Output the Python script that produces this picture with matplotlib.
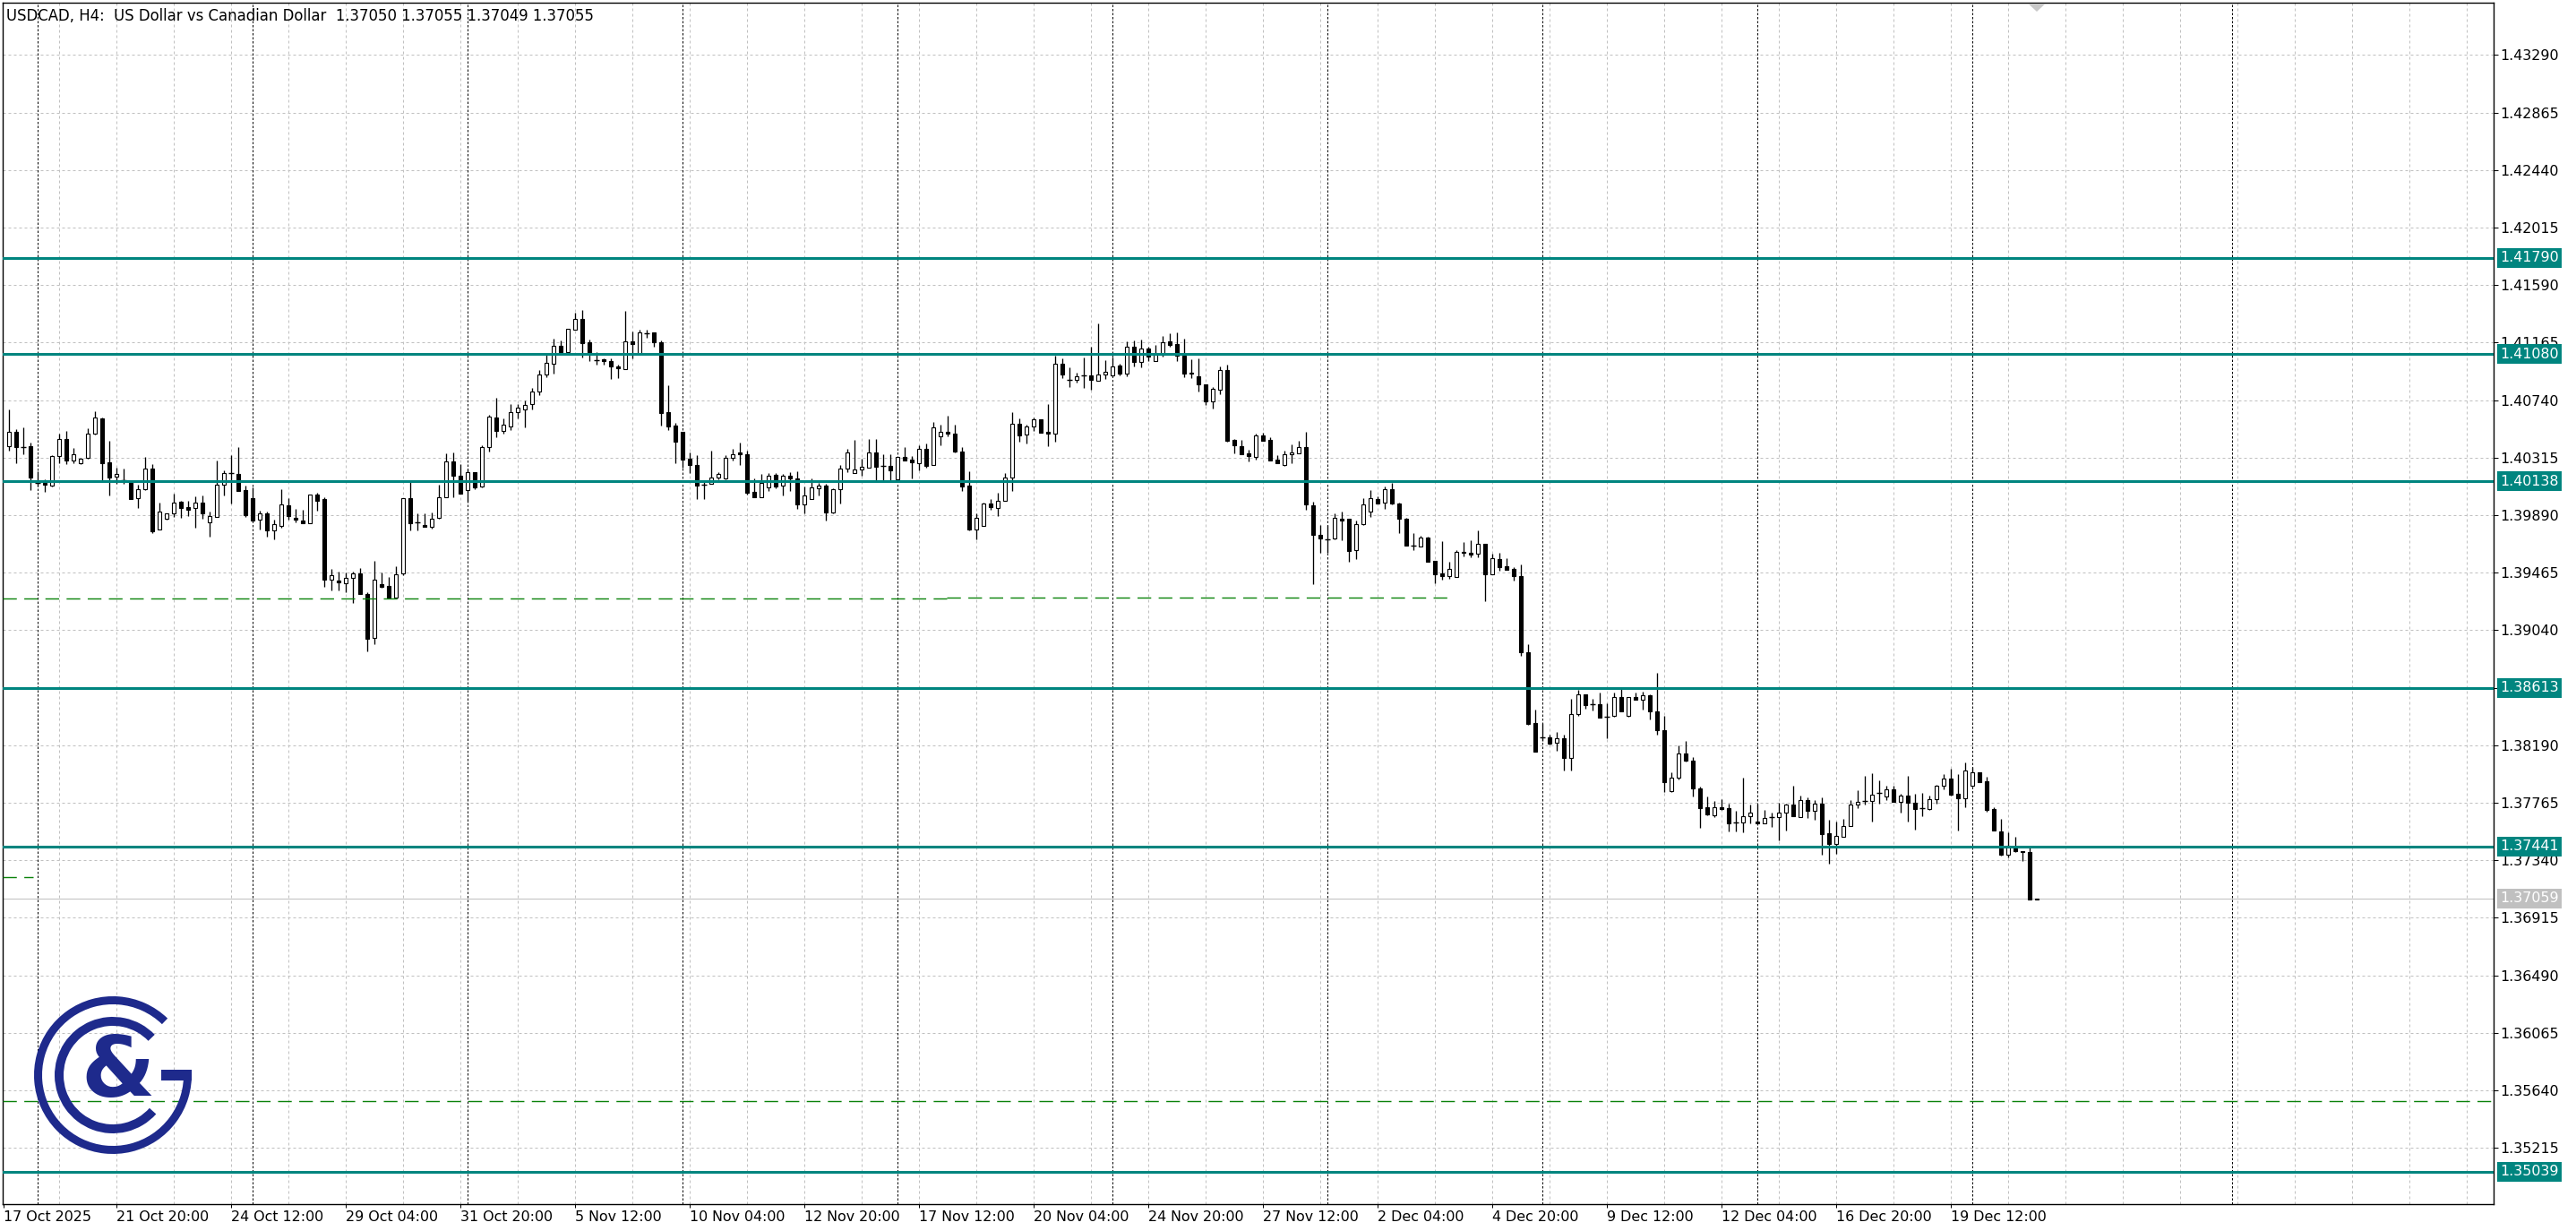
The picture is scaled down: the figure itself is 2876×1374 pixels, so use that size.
#!/usr/bin/env python3
"""USDCAD H4 candlestick chart in MetaTrader style with horizontal levels."""
import numpy as np
import matplotlib
matplotlib.use("Agg")
import matplotlib.pyplot as plt
import matplotlib.transforms as mtransforms
from matplotlib.patches import Wedge, Rectangle, Polygon

# ---- data (prices, one H4 bar per entry) ----
opens = [
    1.40397, 1.40503, 1.40390, 1.40397, 1.40125, 1.40128, 1.40110, 1.40324, 1.40452, 1.40293,
    1.40271, 1.40311, 1.40490, 1.40607, 1.40280, 1.40172, 1.40150, 1.40132, 1.40015, 1.40081,
    1.40231, 1.39786, 1.39861, 1.39900, 1.39986, 1.39949, 1.39940, 1.39980, 1.39834, 1.39878,
    1.40112, 1.40203, 1.40194, 1.40075, 1.40013, 1.39854, 1.39903, 1.39775, 1.39812, 1.39960,
    1.39867, 1.39852, 1.39830, 1.40039, 1.40006, 1.39415, 1.39404, 1.39384, 1.39424, 1.39459,
    1.39305, 1.38980, 1.39377, 1.39366, 1.39282, 1.39459, 1.40015, 1.39834, 1.39814, 1.39805,
    1.39867, 1.40019, 1.40286, 1.40184, 1.40076, 1.40204, 1.40103, 1.40390, 1.40610, 1.40515,
    1.40544, 1.40654, 1.40672, 1.40712, 1.40800, 1.40926, 1.41008, 1.41138, 1.41096, 1.41257,
    1.41339, 1.41167, 1.41036, 1.41041, 1.41025, 1.40986, 1.40970, 1.41171, 1.41078, 1.41235,
    1.41239, 1.41167, 1.40654, 1.40551, 1.40502, 1.40304, 1.40257, 1.40116, 1.40118, 1.40165,
    1.40158, 1.40312, 1.40350, 1.40337, 1.40059, 1.40019, 1.40098, 1.40187, 1.40105, 1.40180,
    1.40158, 1.39966, 1.40006, 1.40085, 1.40109, 1.39911, 1.40081, 1.40231, 1.40202, 1.40224,
    1.40242, 1.40352, 1.40253, 1.40255, 1.40156, 1.40317, 1.40299, 1.40275, 1.40377, 1.40262,
    1.40469, 1.40502, 1.40491, 1.40361, 1.40107, 1.39785, 1.39812, 1.39973, 1.39944, 1.39993,
    1.40165, 1.40562, 1.40485, 1.40547, 1.40595, 1.40502, 1.40493, 1.41010, 1.40889, 1.40886,
    1.40924, 1.40924, 1.40884, 1.40926, 1.40920, 1.40992, 1.40937, 1.41136, 1.41021, 1.41118,
    1.41025, 1.41074, 1.41173, 1.41151, 1.41065, 1.40944, 1.40915, 1.40856, 1.40732, 1.40816,
    1.40959, 1.40443, 1.40396, 1.40346, 1.40319, 1.40478, 1.40445, 1.40299, 1.40262, 1.40337,
    1.40348, 1.40390, 1.39962, 1.39741, 1.39712, 1.39717, 1.39860, 1.39860, 1.39629, 1.39824,
    1.39913, 1.40006, 1.39982, 1.40081, 1.39975, 1.39863, 1.39662, 1.39657, 1.39724, 1.39551,
    1.39459, 1.39441, 1.39430, 1.39618, 1.39609, 1.39602, 1.39679, 1.39454, 1.39565, 1.39512,
    1.39492, 1.39441, 1.38874, 1.38351, 1.38245, 1.38245, 1.38205, 1.38240, 1.38097, 1.38417,
    1.38565, 1.38494, 1.38496, 1.38399, 1.38404, 1.38549, 1.38404, 1.38543, 1.38527, 1.38560,
    1.38443, 1.38304, 1.37848, 1.37947, 1.38128, 1.38073, 1.37870, 1.37731, 1.37671, 1.37733,
    1.37722, 1.37616, 1.37616, 1.37665, 1.37623, 1.37612, 1.37656, 1.37656, 1.37689, 1.37749,
    1.37656, 1.37782, 1.37702, 1.37755, 1.37537, 1.37462, 1.37512, 1.37594, 1.37749, 1.37775,
    1.37775, 1.37837, 1.37808, 1.37861, 1.37773, 1.37819, 1.37766, 1.37722, 1.37716, 1.37790,
    1.37888, 1.37941, 1.37828, 1.37795, 1.37892, 1.37987, 1.37921, 1.37716, 1.37550, 1.37380,
    1.37428, 1.37409, 1.37400, 1.37050,
]
highs = [
    1.40668, 1.40525, 1.40536, 1.40423, 1.40216, 1.40154, 1.40331, 1.40492, 1.40512, 1.40386,
    1.40315, 1.40529, 1.40655, 1.40611, 1.40437, 1.40242, 1.40231, 1.40139, 1.40117, 1.40320,
    1.40269, 1.39982, 1.39905, 1.40048, 1.39995, 1.39995, 1.40028, 1.40035, 1.39916, 1.40293,
    1.40218, 1.40331, 1.40393, 1.40106, 1.40095, 1.39922, 1.39918, 1.39856, 1.40084, 1.40015,
    1.39938, 1.39927, 1.40039, 1.40055, 1.40020, 1.39492, 1.39472, 1.39468, 1.39470, 1.39497,
    1.39318, 1.39552, 1.39463, 1.39435, 1.39514, 1.40015, 1.40132, 1.39900, 1.39905, 1.39907,
    1.40115, 1.40348, 1.40352, 1.40264, 1.40231, 1.40209, 1.40407, 1.40628, 1.40756, 1.40606,
    1.40710, 1.40710, 1.40738, 1.40831, 1.40963, 1.41078, 1.41193, 1.41178, 1.41268, 1.41385,
    1.41407, 1.41184, 1.41096, 1.41047, 1.41047, 1.41003, 1.41400, 1.41246, 1.41257, 1.41257,
    1.41239, 1.41180, 1.40849, 1.40573, 1.40502, 1.40352, 1.40330, 1.40147, 1.40368, 1.40209,
    1.40330, 1.40381, 1.40424, 1.40368, 1.40158, 1.40191, 1.40202, 1.40200, 1.40191, 1.40209,
    1.40213, 1.40103, 1.40160, 1.40125, 1.40120, 1.40087, 1.40257, 1.40379, 1.40445, 1.40308,
    1.40452, 1.40452, 1.40337, 1.40337, 1.40317, 1.40392, 1.40324, 1.40408, 1.40421, 1.40575,
    1.40558, 1.40624, 1.40558, 1.40392, 1.40213, 1.39900, 1.39982, 1.40010, 1.40054, 1.40198,
    1.40650, 1.40602, 1.40558, 1.40611, 1.40600, 1.40710, 1.41070, 1.41048, 1.40981, 1.40942,
    1.41054, 1.41131, 1.41306, 1.41032, 1.41054, 1.41008, 1.41173, 1.41180, 1.41184, 1.41136,
    1.41147, 1.41213, 1.41235, 1.41242, 1.41191, 1.41041, 1.41048, 1.40858, 1.40833, 1.40990,
    1.41003, 1.40454, 1.40445, 1.40370, 1.40489, 1.40496, 1.40463, 1.40332, 1.40364, 1.40414,
    1.40441, 1.40507, 1.39988, 1.39816, 1.39816, 1.39900, 1.39915, 1.39865, 1.39853, 1.40015,
    1.40072, 1.40030, 1.40103, 1.40125, 1.39984, 1.39867, 1.39757, 1.39735, 1.39730, 1.39551,
    1.39695, 1.39547, 1.39631, 1.39690, 1.39706, 1.39774, 1.39679, 1.39607, 1.39613, 1.39573,
    1.39507, 1.39525, 1.38936, 1.38455, 1.38355, 1.38271, 1.38289, 1.38271, 1.38532, 1.38598,
    1.38565, 1.38532, 1.38576, 1.38499, 1.38576, 1.38605, 1.38549, 1.38576, 1.38587, 1.38565,
    1.38726, 1.38410, 1.37991, 1.38190, 1.38223, 1.38101, 1.37883, 1.37810, 1.37775, 1.37793,
    1.37757, 1.37702, 1.37947, 1.37749, 1.37755, 1.37709, 1.37689, 1.37766, 1.37760, 1.37888,
    1.37815, 1.37804, 1.37786, 1.37804, 1.37638, 1.37627, 1.37643, 1.37782, 1.37854, 1.37963,
    1.37980, 1.37929, 1.37892, 1.37892, 1.37830, 1.37963, 1.37830, 1.37835, 1.37819, 1.37896,
    1.37976, 1.38013, 1.37974, 1.38064, 1.38031, 1.37991, 1.37958, 1.37733, 1.37643, 1.37545,
    1.37512, 1.37409, 1.37435, 1.37055,
]
lows = [
    1.40364, 1.40276, 1.40342, 1.40077, 1.40099, 1.40059, 1.40103, 1.40271, 1.40265, 1.40271,
    1.40267, 1.40306, 1.40485, 1.40148, 1.40033, 1.40121, 1.40121, 1.40006, 1.39940, 1.40077,
    1.39757, 1.39786, 1.39856, 1.39874, 1.39872, 1.39883, 1.39799, 1.39861, 1.39728, 1.39878,
    1.40037, 1.39978, 1.40066, 1.39878, 1.39845, 1.39786, 1.39728, 1.39708, 1.39799, 1.39858,
    1.39834, 1.39830, 1.39828, 1.39922, 1.39357, 1.39335, 1.39335, 1.39322, 1.39243, 1.39305,
    1.38885, 1.38934, 1.39355, 1.39276, 1.39278, 1.39448, 1.39779, 1.39779, 1.39805, 1.39790,
    1.39865, 1.40019, 1.40019, 1.40050, 1.39992, 1.40081, 1.40092, 1.40357, 1.40467, 1.40489,
    1.40518, 1.40606, 1.40540, 1.40672, 1.40778, 1.40910, 1.40937, 1.41092, 1.41092, 1.41257,
    1.41056, 1.41030, 1.40999, 1.40999, 1.40897, 1.40904, 1.40966, 1.41047, 1.41078, 1.41197,
    1.41136, 1.40551, 1.40518, 1.40275, 1.40242, 1.40202, 1.40010, 1.40010, 1.40118, 1.40154,
    1.40154, 1.40293, 1.40262, 1.40045, 1.40019, 1.40019, 1.40070, 1.40087, 1.40032, 1.40070,
    1.39933, 1.39900, 1.40006, 1.40037, 1.39851, 1.39904, 1.39977, 1.40209, 1.40202, 1.40180,
    1.40242, 1.40147, 1.40147, 1.40147, 1.40156, 1.40291, 1.40160, 1.40220, 1.40240, 1.40262,
    1.40408, 1.40474, 1.40355, 1.40070, 1.39779, 1.39712, 1.39807, 1.39931, 1.39884, 1.39993,
    1.40070, 1.40434, 1.40421, 1.40513, 1.40498, 1.40401, 1.40434, 1.40904, 1.40838, 1.40867,
    1.40827, 1.40814, 1.40880, 1.40893, 1.40915, 1.40920, 1.40915, 1.40986, 1.40984, 1.41030,
    1.41025, 1.41059, 1.41136, 1.41030, 1.40911, 1.40904, 1.40805, 1.40705, 1.40679, 1.40783,
    1.40430, 1.40348, 1.40339, 1.40288, 1.40302, 1.40438, 1.40291, 1.40275, 1.40253, 1.40271,
    1.40346, 1.39927, 1.39381, 1.39613, 1.39613, 1.39712, 1.39706, 1.39547, 1.39562, 1.39816,
    1.39874, 1.39973, 1.39933, 1.39971, 1.39759, 1.39662, 1.39629, 1.39655, 1.39547, 1.39388,
    1.39415, 1.39421, 1.39430, 1.39584, 1.39580, 1.39580, 1.39256, 1.39450, 1.39476, 1.39485,
    1.39403, 1.38852, 1.38340, 1.38141, 1.38223, 1.38196, 1.38146, 1.38002, 1.38006, 1.38404,
    1.38461, 1.38448, 1.38395, 1.38238, 1.38399, 1.38439, 1.38401, 1.38527, 1.38455, 1.38382,
    1.38267, 1.37841, 1.37841, 1.37936, 1.38068, 1.37814, 1.37576, 1.37671, 1.37660, 1.37713,
    1.37554, 1.37550, 1.37543, 1.37610, 1.37610, 1.37610, 1.37583, 1.37484, 1.37559, 1.37667,
    1.37656, 1.37654, 1.37638, 1.37378, 1.37312, 1.37384, 1.37510, 1.37594, 1.37722, 1.37749,
    1.37627, 1.37760, 1.37786, 1.37771, 1.37689, 1.37627, 1.37568, 1.37667, 1.37711, 1.37760,
    1.37865, 1.37815, 1.37557, 1.37733, 1.37881, 1.37918, 1.37700, 1.37557, 1.37371, 1.37362,
    1.37398, 1.37336, 1.37053, 1.37049,
]
closes = [
    1.40503, 1.40390, 1.40390, 1.40165, 1.40125, 1.40112, 1.40326, 1.40452, 1.40291, 1.40337,
    1.40309, 1.40490, 1.40609, 1.40276, 1.40165, 1.40192, 1.40150, 1.40011, 1.40081, 1.40231,
    1.39772, 1.39918, 1.39900, 1.39980, 1.39945, 1.39931, 1.39980, 1.39900, 1.39883, 1.40112,
    1.40201, 1.40203, 1.40070, 1.39889, 1.39850, 1.39900, 1.39779, 1.39821, 1.39967, 1.39885,
    1.39854, 1.39830, 1.40039, 1.39998, 1.39415, 1.39443, 1.39391, 1.39424, 1.39461, 1.39309,
    1.38973, 1.39410, 1.39360, 1.39282, 1.39452, 1.40015, 1.39828, 1.39834, 1.39805, 1.39865,
    1.40022, 1.40286, 1.40182, 1.40050, 1.40204, 1.40098, 1.40390, 1.40617, 1.40515, 1.40555,
    1.40654, 1.40683, 1.40707, 1.40800, 1.40926, 1.41012, 1.41138, 1.41096, 1.41264, 1.41339,
    1.41162, 1.41087, 1.41036, 1.41027, 1.40990, 1.40972, 1.41171, 1.41151, 1.41239, 1.41235,
    1.41167, 1.40646, 1.40546, 1.40434, 1.40301, 1.40257, 1.40109, 1.40116, 1.40165, 1.40193,
    1.40312, 1.40341, 1.40337, 1.40054, 1.40019, 1.40131, 1.40178, 1.40103, 1.40178, 1.40158,
    1.39966, 1.40037, 1.40092, 1.40109, 1.39911, 1.40081, 1.40231, 1.40350, 1.40224, 1.40246,
    1.40352, 1.40249, 1.40253, 1.40222, 1.40317, 1.40295, 1.40282, 1.40377, 1.40255, 1.40538,
    1.40502, 1.40491, 1.40359, 1.40103, 1.39783, 1.39867, 1.39975, 1.39948, 1.39993, 1.40165,
    1.40562, 1.40480, 1.40544, 1.40595, 1.40500, 1.40493, 1.41010, 1.40931, 1.40889, 1.40913,
    1.40924, 1.40886, 1.40931, 1.40950, 1.40990, 1.40937, 1.41136, 1.41019, 1.41118, 1.41063,
    1.41074, 1.41169, 1.41147, 1.41065, 1.40937, 1.40937, 1.40853, 1.40732, 1.40820, 1.40959,
    1.40441, 1.40408, 1.40341, 1.40328, 1.40478, 1.40441, 1.40293, 1.40275, 1.40337, 1.40350,
    1.40390, 1.39966, 1.39741, 1.39719, 1.39712, 1.39867, 1.39847, 1.39626, 1.39824, 1.39966,
    1.40015, 1.39977, 1.40081, 1.39973, 1.39860, 1.39664, 1.39662, 1.39724, 1.39547, 1.39454,
    1.39441, 1.39492, 1.39618, 1.39609, 1.39596, 1.39675, 1.39454, 1.39569, 1.39507, 1.39487,
    1.39437, 1.38874, 1.38344, 1.38141, 1.38245, 1.38201, 1.38238, 1.38097, 1.38417, 1.38565,
    1.38488, 1.38494, 1.38395, 1.38399, 1.38549, 1.38443, 1.38545, 1.38527, 1.38558, 1.38443,
    1.38304, 1.37914, 1.37947, 1.38128, 1.38073, 1.37870, 1.37726, 1.37676, 1.37733, 1.37720,
    1.37610, 1.37616, 1.37667, 1.37689, 1.37610, 1.37649, 1.37656, 1.37689, 1.37749, 1.37667,
    1.37782, 1.37702, 1.37755, 1.37534, 1.37459, 1.37517, 1.37594, 1.37749, 1.37773, 1.37775,
    1.37826, 1.37837, 1.37861, 1.37773, 1.37819, 1.37766, 1.37720, 1.37722, 1.37790, 1.37888,
    1.37941, 1.37821, 1.37795, 1.38000, 1.37987, 1.37918, 1.37709, 1.37557, 1.37380, 1.37446,
    1.37406, 1.37398, 1.37053, 1.37055,
]

levels = [1.41790, 1.41080, 1.40138, 1.38613, 1.37441, 1.35039]   # teal horizontal lines
bid = 1.37059
price_ticks = [1.35215 + 0.00425 * k for k in range(20)]
# dashed green lines: (first bar, last bar, price)
green_segments = [(-0.9, 130.9, 1.39271), (130.9, 201.25, 1.39278),
                  (-0.9, 3.4, 1.37215), (-0.9, 347, 1.35557)]
week_separators = [4, 34, 64, 94, 124, 154, 184, 214, 244, 274, 310.25]
date_ticks = [-0.75] + [15 + 16 * k for k in range(17)]
date_labels = ["17 Oct 2025", "21 Oct 20:00", "24 Oct 12:00", "29 Oct 04:00", "31 Oct 20:00",
               "5 Nov 12:00", "10 Nov 04:00", "12 Nov 20:00", "17 Nov 12:00", "20 Nov 04:00",
               "24 Nov 20:00", "27 Nov 12:00", "2 Dec 04:00", "4 Dec 20:00", "9 Dec 12:00",
               "12 Dec 04:00", "16 Dec 20:00", "19 Dec 12:00"]
title = "USDCAD, H4:  US Dollar vs Canadian Dollar  1.37050 1.37055 1.37049 1.37055"

TEAL = "#00857f"
GREY = "#c0c0c0"
NAVY = "#1e2a8c"
GREEN = "#0a820a"
PX = 0.72      # one pixel in points at dpi 100
FS = 11.4

W, H = 2876, 1374
L, R, T, B = 3, 2784, 3, 1344
fig = plt.figure(figsize=(W / 100, H / 100), dpi=100, facecolor="white")
ax = fig.add_axes([L / W, 1 - B / H, (R - L) / W, (B - T) / H])
ax.set_xlim(-0.875, 346.75)
ax.set_ylim(1.34799, 1.43676)

# grid + period separators
for p in price_ticks:
    ax.axhline(p, color=GREY, lw=PX, ls=(0, (3, 3)), zorder=0.5)
for g in range(7, 347, 8):
    ax.axvline(g, color=GREY, lw=PX, ls=(0, (3, 3)), zorder=0.5)
for s in week_separators:
    ax.axvline(s, color="black", lw=PX, ls=(0, (2.5, 2)), zorder=0.6)

# candles
o, h, l, c = map(np.array, (opens, highs, lows, closes))
idx = np.arange(len(o))
body = np.abs(c - o)
doji = body < 0.00004
fill = np.where(c > o, "white", "black")
ax.vlines(idx, l, h, color="black", lw=0.95, zorder=2)
ax.bar(idx[~doji], body[~doji], bottom=np.minimum(o, c)[~doji], width=0.5,
       color=fill[~doji], edgecolor="black", linewidth=0.8, zorder=2.1)
ax.hlines(c[doji], idx[doji] - 0.32, idx[doji] + 0.32, color="black", lw=1.0, zorder=2.1)

# objects
ax.axhline(bid, color=GREY, lw=PX, zorder=1.5)
for x0, x1, p in green_segments:
    ax.plot([x0, x1], [p, p], color=GREEN, lw=1.0, ls=(0, (11, 6)), zorder=3)
for lvl in levels:
    ax.axhline(lvl, color=TEAL, lw=2.2, zorder=3.2)

# frame and axes
for sp in ax.spines.values():
    sp.set_linewidth(1.0)
    sp.set_color("black")
ax.yaxis.tick_right()
ax.set_yticks(price_ticks)
ax.set_yticklabels([f"{p:.5f}" for p in price_ticks])
ax.tick_params(axis="y", direction="out", length=5 * PX, width=PX, pad=1.5,
               labelsize=FS, left=False, right=True)
ax.set_xticks(date_ticks)
ax.set_xticklabels(date_labels, ha="left")
ax.tick_params(axis="x", direction="out", length=4 * PX, width=PX, pad=2, labelsize=FS)

ax.text((7 - L) / (R - L), 1 - (18 - T) / (B - T), title, transform=ax.transAxes,
        ha="left", va="center", fontsize=11.9, color="black")

# price labels on the right
ytr = ax.get_yaxis_transform()
xlab = 1 + (2791 - R) / (R - L)
for lvl in levels:
    ax.text(xlab, lvl, f"{lvl:.5f}", transform=ytr, ha="left", va="center", color="white",
            fontsize=FS, clip_on=False, zorder=6,
            bbox=dict(boxstyle="square,pad=0.22", fc=TEAL, ec="none"))
ax.text(xlab, bid, f"{bid:.5f}", transform=ytr, ha="left", va="center", color="white",
        fontsize=FS, clip_on=False, zorder=6,
        bbox=dict(boxstyle="square,pad=0.22", fc=GREY, ec="none"))

# chart shift marker
btr = mtransforms.blended_transform_factory(ax.transData, ax.transAxes)
last = idx[-1]
ax.add_patch(Polygon([(last - 1.2, 1 - 1 / 1341), (last + 1.2, 1 - 1 / 1341),
                      (last, 1 - 10 / 1341)], closed=True, transform=btr,
                     fc="#c8c8c8", ec="none", zorder=4))

# logo
lax = fig.add_axes([26 / W, (H - 1300) / H, 200 / W, 200 / H])
lax.set_xlim(-100, 100)
lax.set_ylim(-100, 100)
lax.axis("off")
lax.add_patch(Wedge((0, 0), 88, 46, 363, width=9, fc=NAVY, ec="none"))
lax.add_patch(Rectangle((53.7, -6), 34, 11.7, fc=NAVY, ec="none"))
lax.add_patch(Wedge((0, 0), 65, 44, 318, width=10, fc=NAVY, ec="none"))
lax.text(6, 2, "&", fontsize=68, fontweight="bold", color=NAVY, ha="center", va="center")

fig.savefig("out.png", dpi=100, facecolor="white")
